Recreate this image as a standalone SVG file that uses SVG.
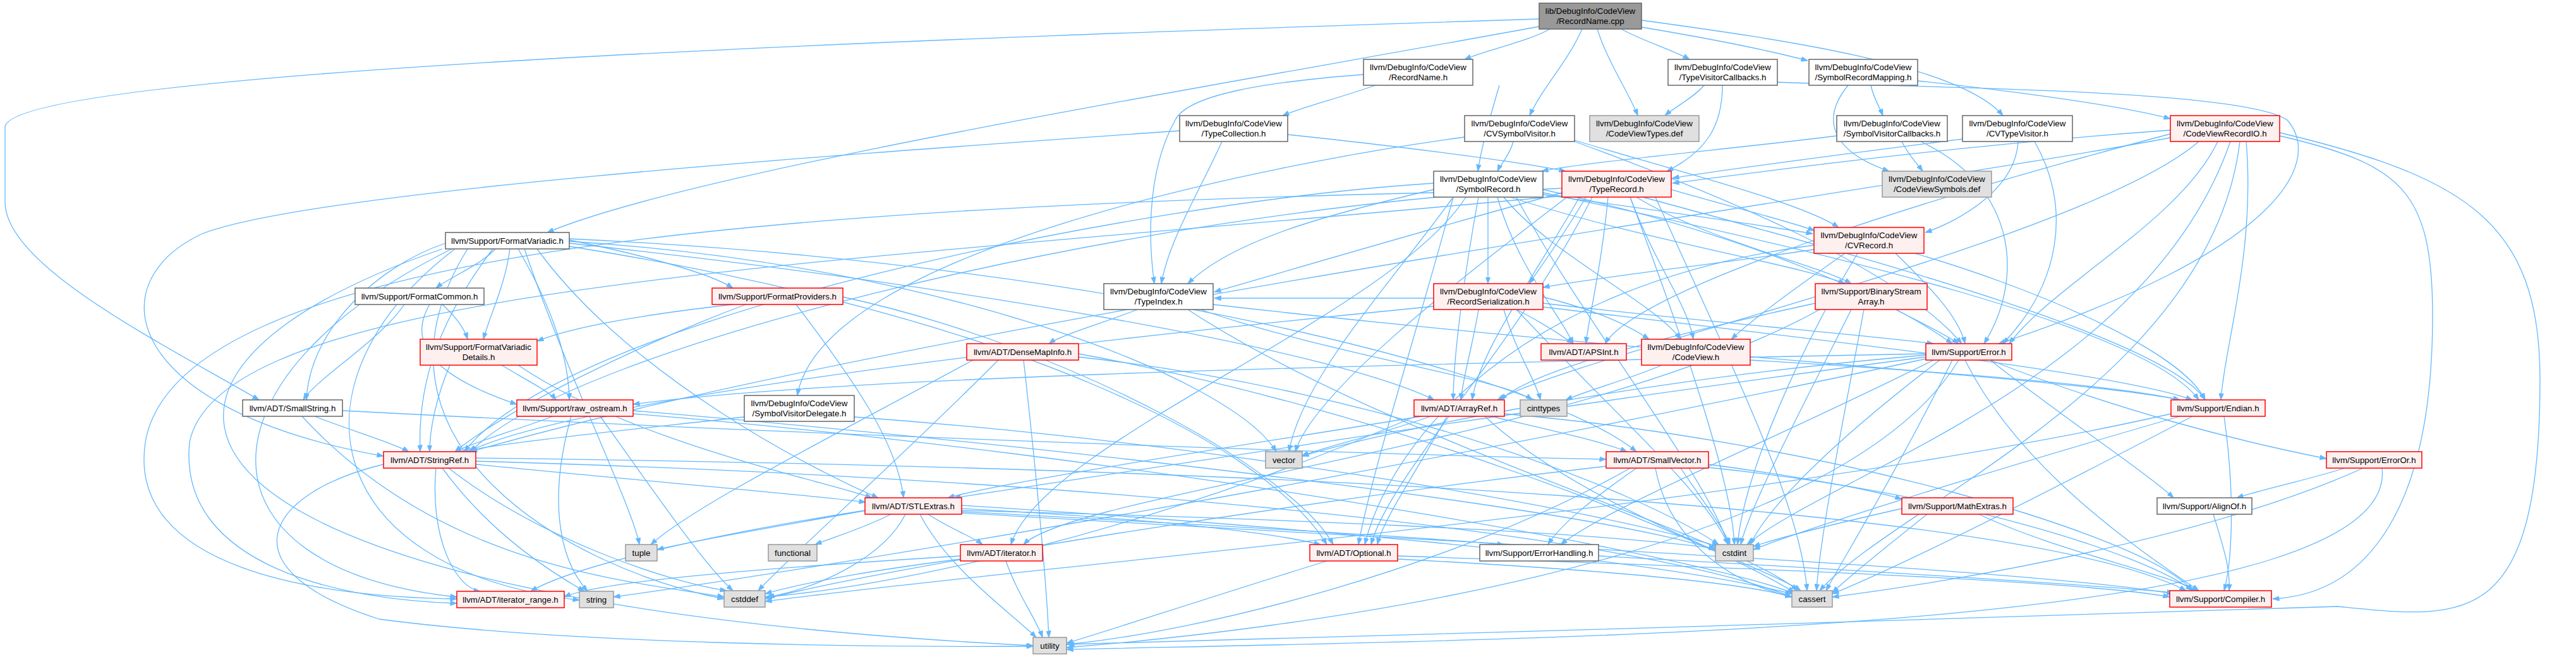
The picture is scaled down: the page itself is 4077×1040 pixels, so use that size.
<svg xmlns="http://www.w3.org/2000/svg" width="4077" height="1040" viewBox="0 0 4077 1040">
<style>
.w{fill:#ffffff;stroke:#666666;stroke-width:1.5}
.r{fill:#fff0f0;stroke:#ff0000;stroke-width:1.5}
.g{fill:#e0e0e0;stroke:#999999;stroke-width:1.5}
.root{fill:#999999;stroke:#666666;stroke-width:1.5}
text{font-family:"Liberation Sans",Arial,sans-serif;font-size:13.3px;fill:#000000;text-anchor:middle}
#edges path{fill:none;stroke:#63b8ff;stroke-width:1.3;marker-end:url(#a)}
</style>
<defs>
<marker id="a" markerUnits="userSpaceOnUse" markerWidth="11" markerHeight="8" refX="10.5" refY="4" orient="auto">
<path d="M0,0 L11,4 L0,8 z" fill="#63b8ff" stroke="#63b8ff" stroke-width="0.5"/>
</marker>
</defs>
<rect width="4077" height="1040" fill="#ffffff"/>
<g id="edges">
<path d="M2453,46 C2420,65 2350,80 2318,94"/>
<path d="M2436,30 C1500,60 30,110 8,200 L8,320 C8,420 250,540 410,633"/>
<path d="M2504,46 C2480,100 2440,140 2421,183"/>
<path d="M2528,46 C2545,100 2580,150 2592,183"/>
<path d="M2566,46 C2600,65 2650,80 2674,94"/>
<path d="M2598,43 C2700,60 2800,80 2861,96"/>
<path d="M2598,32 C2800,60 3100,100 3170,183"/>
<path d="M2436,42 C1900,140 1100,270 866,368"/>
<path d="M2373,135 C2360,180 2345,230 2339,271"/>
<path d="M2177,135 C2120,155 2060,170 2030,183"/>
<path d="M2158,118 C2000,130 1880,150 1860,190 C1810,280 1820,400 1827,449"/>
<path d="M2697,135 C2680,155 2650,170 2635,183"/>
<path d="M2726,135 C2726,200 2700,240 2638,271"/>
<path d="M2813,130 C3000,138 3550,140 3620,190 C3680,260 3600,400 3163,544"/>
<path d="M2961,135 C2965,155 2975,170 2980,183"/>
<path d="M3035,128 C3150,140 3350,165 3435,188"/>
<path d="M2925,135 C2880,190 2900,240 2990,271"/>
<path d="M2038,213 C2200,230 2400,255 2478,271"/>
<path d="M1934,224 C1900,300 1850,380 1838,449"/>
<path d="M1867,207 C1400,240 500,300 320,370 C150,450 200,650 607,722"/>
<path d="M2395,224 C2390,245 2375,260 2370,271"/>
<path d="M2492,222 C2650,270 2850,320 2910,360"/>
<path d="M2492,224 C2700,300 3000,420 3105,544"/>
<path d="M2318,217 C2000,260 1300,400 1262,626"/>
<path d="M2907,215 C2750,235 2520,255 2440,271"/>
<path d="M3010,224 C3020,245 3035,260 3043,271"/>
<path d="M3040,224 C3200,300 3200,450 3140,544"/>
<path d="M3194,224 C3190,300 3100,350 3047,368"/>
<path d="M3106,220 C2950,240 2750,265 2647,282"/>
<path d="M3220,224 C3280,330 3260,450 3170,544"/>
<path d="M3435,206 C3100,230 2800,270 2647,290"/>
<path d="M3435,212 C3100,300 2600,450 2540,544"/>
<path d="M3480,224 C3300,380 2500,560 2370,633"/>
<path d="M3435,218 C3000,300 1500,500 745,715"/>
<path d="M3510,224 C3450,350 3250,450 3180,544"/>
<path d="M3555,224 C3570,400 3520,550 3515,633"/>
<path d="M3545,224 C3500,600 3000,800 2880,935"/>
<path d="M3530,224 C3400,600 2900,750 2765,862"/>
<path d="M3608,215 C3800,260 3850,300 3850,500 C3850,800 3750,940 3597,948"/>
<path d="M3608,210 C3900,280 4020,350 4020,600 C4020,1000 3900,980 3700,960 C3300,970 2200,1010 1690,1020"/>
<path d="M2355,312 L2355,449"/>
<path d="M2442,308 C2600,330 2780,355 2869,370"/>
<path d="M2380,312 C2450,400 2620,480 2660,537"/>
<path d="M2269,300 C2100,340 1950,380 1880,449"/>
<path d="M2370,312 C2400,420 2470,500 2490,544"/>
<path d="M2340,312 C2320,420 2300,560 2300,633"/>
<path d="M2300,312 C2250,500 2170,750 2150,862"/>
<path d="M2269,290 C1800,320 900,500 735,715"/>
<path d="M2269,305 C1200,330 280,400 230,700 C200,900 500,945 723,948"/>
<path d="M2320,312 C2200,500 1650,700 1600,862"/>
<path d="M2390,312 C2600,380 2850,420 2920,449"/>
<path d="M2442,305 C2900,400 3400,520 3480,633"/>
<path d="M2442,300 C2800,380 3000,480 3090,544"/>
<path d="M2300,312 C2200,450 2060,600 2040,715"/>
<path d="M2400,312 C2500,500 2700,750 2735,862"/>
<path d="M2645,300 C2750,330 2830,350 2872,365"/>
<path d="M2580,312 C2620,420 2670,480 2680,537"/>
<path d="M2472,305 C2200,380 2000,440 1922,462"/>
<path d="M2545,312 C2535,420 2515,500 2510,544"/>
<path d="M2500,312 C2420,450 2340,560 2330,633"/>
<path d="M2520,312 C2400,550 2200,750 2170,862"/>
<path d="M2472,298 C1800,330 900,550 745,715"/>
<path d="M2472,310 C1300,420 350,450 300,700 C280,900 550,950 723,955"/>
<path d="M2590,312 C2700,380 2880,420 2930,449"/>
<path d="M2600,312 C3000,420 3430,540 3490,633"/>
<path d="M2480,312 C2300,450 2080,620 2050,715"/>
<path d="M2580,312 C2650,500 2740,750 2745,862"/>
<path d="M2510,312 C2470,380 2440,420 2420,449"/>
<path d="M2620,312 C2750,600 2850,800 2860,935"/>
<path d="M2871,395 C2700,420 2520,440 2442,455"/>
<path d="M2871,388 C2400,450 2200,700 2160,862"/>
<path d="M3000,401 C3050,450 3100,500 3110,544"/>
<path d="M3030,401 C3200,450 3450,550 3490,633"/>
<path d="M2940,401 C2850,550 2760,750 2750,862"/>
<path d="M2920,401 C2850,450 2780,500 2740,537"/>
<path d="M2442,470 C2520,490 2570,510 2610,537"/>
<path d="M2269,472 C2100,472 2000,472 1922,472"/>
<path d="M2400,490 C2440,510 2470,530 2490,544"/>
<path d="M2340,490 C2330,550 2315,600 2312,633"/>
<path d="M2269,485 C1500,560 900,640 740,715"/>
<path d="M2442,480 C2700,510 2950,530 3060,544"/>
<path d="M2442,486 C2900,540 3350,590 3470,633"/>
<path d="M2380,490 C2400,560 2430,600 2438,633"/>
<path d="M2400,490 C2550,650 2700,780 2735,862"/>
<path d="M2873,480 C2600,540 2420,590 2375,633"/>
<path d="M2880,490 C2500,700 1700,780 1620,862"/>
<path d="M3000,490 C3040,510 3080,530 3100,544"/>
<path d="M2950,490 C2920,650 2880,850 2875,935"/>
<path d="M2930,490 C2850,650 2770,800 2755,862"/>
<path d="M1800,490 C1750,510 1680,530 1660,544"/>
<path d="M1920,482 C2600,560 3300,600 3450,633"/>
<path d="M1900,490 C2100,560 2380,600 2425,633"/>
<path d="M1880,490 C2200,700 2750,850 2845,935"/>
<path d="M2630,578 C2580,600 2520,615 2478,633"/>
<path d="M2770,570 C3100,590 3350,610 3450,633"/>
<path d="M784,394 C760,420 710,440 690,456"/>
<path d="M901,380 C1000,400 1120,430 1160,456"/>
<path d="M807,394 C800,450 775,500 765,537"/>
<path d="M820,394 C870,480 900,560 901,633"/>
<path d="M705,385 C600,420 490,520 485,633"/>
<path d="M780,394 C700,500 660,600 665,715"/>
<path d="M901,385 C1500,450 2100,550 2270,633"/>
<path d="M901,390 C1600,500 2000,700 2100,862"/>
<path d="M850,394 C1000,600 1300,750 1390,788"/>
<path d="M901,378 C1800,420 2450,600 2590,715"/>
<path d="M740,394 C550,700 900,900 1146,948"/>
<path d="M720,394 C450,600 500,900 917,950"/>
<path d="M830,394 C900,600 1000,800 1012,862"/>
<path d="M700,394 C100,600 200,950 1635,1022"/>
<path d="M901,382 C1500,420 1950,600 2020,715"/>
<path d="M715,394 C300,600 300,900 723,945"/>
<path d="M700,482 C720,500 735,520 740,537"/>
<path d="M680,482 C640,550 700,600 818,640"/>
<path d="M640,482 C600,540 500,600 480,633"/>
<path d="M1160,482 C1000,500 900,520 850,540"/>
<path d="M1260,482 C1350,600 1420,700 1430,788"/>
<path d="M1180,482 C1000,550 800,650 720,715"/>
<path d="M1334,470 C1700,550 2050,750 2110,862"/>
<path d="M712,578 C690,630 680,680 680,715"/>
<path d="M794,578 C830,600 870,620 880,633"/>
<path d="M820,578 C1000,700 1300,760 1380,788"/>
<path d="M542,650 C1300,690 2200,720 2542,727"/>
<path d="M498,659 C550,680 620,700 647,715"/>
<path d="M478,659 C700,900 1000,920 1146,945"/>
<path d="M875,659 C820,680 750,700 720,715"/>
<path d="M1002,655 C1800,720 2700,880 2840,940"/>
<path d="M950,659 C1050,800 1120,900 1160,935"/>
<path d="M1002,650 C1600,700 2500,800 2715,870"/>
<path d="M904,659 C870,780 880,880 930,936"/>
<path d="M1178,660 C1000,680 800,700 730,715"/>
<path d="M1352,660 C1900,700 2500,800 2720,865"/>
<path d="M2360,659 C2450,680 2540,700 2575,715"/>
<path d="M2250,659 C2000,700 1600,760 1500,788"/>
<path d="M2381,655 C2900,700 3400,850 3470,935"/>
<path d="M2350,659 C2500,800 2800,900 2850,935"/>
<path d="M2240,659 C1800,850 1400,930 1211,945"/>
<path d="M2264,659 C2180,690 2100,705 2060,722"/>
<path d="M2290,659 C2240,750 2190,820 2180,862"/>
<path d="M753,735 C1000,760 1250,780 1370,795"/>
<path d="M690,741 C680,850 720,930 760,936"/>
<path d="M753,725 C2000,740 3200,800 3460,935"/>
<path d="M753,730 C1800,760 2600,850 2836,945"/>
<path d="M710,741 C850,850 1050,920 1150,935"/>
<path d="M700,741 C780,850 880,910 925,936"/>
<path d="M607,735 C420,780 350,900 600,980 C900,1020 1400,1025 1635,1023"/>
<path d="M1540,570 C1300,700 1100,800 1030,862"/>
<path d="M1707,560 C2200,650 2700,850 2840,938"/>
<path d="M1580,570 C1400,750 1250,880 1200,935"/>
<path d="M1707,565 C2200,620 2600,780 2720,862"/>
<path d="M1620,570 C1640,750 1655,900 1660,1009"/>
<path d="M2590,741 C2520,790 2470,830 2450,862"/>
<path d="M2704,735 C2850,755 2960,775 3010,790"/>
<path d="M2704,740 C3100,780 3400,880 3470,935"/>
<path d="M2620,741 C2640,850 2730,920 2836,945"/>
<path d="M2542,738 C2000,800 1400,900 1211,948"/>
<path d="M2660,741 C2700,800 2730,840 2738,862"/>
<path d="M2580,741 C2300,900 1900,1000 1688,1020"/>
<path d="M1522,805 C1800,820 2000,840 2090,862"/>
<path d="M1469,814 C1500,835 1540,850 1555,862"/>
<path d="M1369,808 C1100,850 900,900 840,936"/>
<path d="M1522,810 C1900,830 2250,850 2380,862"/>
<path d="M1522,800 C2000,830 2600,880 2836,940"/>
<path d="M1433,814 C1400,880 1300,930 1215,945"/>
<path d="M1522,808 C2000,820 2500,840 2715,868"/>
<path d="M1410,814 C1370,835 1320,850 1290,862"/>
<path d="M1371,808 C1250,830 1100,855 1040,870"/>
<path d="M1456,814 C1500,900 1600,970 1640,1009"/>
<path d="M1522,812 C2500,870 3200,900 3440,940"/>
<path d="M1520,880 C1200,900 950,920 893,945"/>
<path d="M1520,885 C1400,900 1280,920 1211,940"/>
<path d="M1592,888 C1610,940 1640,980 1650,1009"/>
<path d="M2212,880 C2800,900 3300,920 3434,945"/>
<path d="M2212,885 C2500,900 2750,920 2836,945"/>
<path d="M2100,888 C1900,950 1750,1000 1688,1018"/>
<path d="M2530,880 C2900,900 3300,925 3440,938"/>
<path d="M3048,565 C2400,650 1700,760 1510,788"/>
<path d="M3150,570 C3250,650 3400,750 3440,788"/>
<path d="M3110,570 C3200,750 3400,880 3480,935"/>
<path d="M3060,570 C2800,700 2550,800 2470,862"/>
<path d="M3150,570 C3350,650 3550,700 3682,726"/>
<path d="M3048,560 C2000,580 1300,600 1002,640"/>
<path d="M3090,570 C3000,750 2920,880 2890,935"/>
<path d="M3070,570 C2900,700 2800,800 2770,862"/>
<path d="M3048,568 C2200,750 1300,900 971,945"/>
<path d="M3100,570 C2900,900 2000,1000 1688,1025"/>
<path d="M3048,562 C2600,600 2200,680 2061,722"/>
<path d="M3520,659 C3540,800 3530,900 3520,935"/>
<path d="M3470,659 C3200,800 3000,900 2900,940"/>
<path d="M3436,655 C2800,800 1600,900 1211,952"/>
<path d="M3450,659 C3100,760 2850,840 2775,870"/>
<path d="M3711,741 C3650,760 3580,775 3540,788"/>
<path d="M3740,741 C3500,850 3100,920 2900,945"/>
<path d="M3770,741 C3800,1000 2500,1010 1688,1028"/>
<path d="M3503,814 C3520,870 3530,900 3528,935"/>
<path d="M3132,814 C3250,870 3400,900 3480,935"/>
<path d="M3050,814 C2980,870 2930,910 2900,938"/>
<path d="M3010,805 C2900,830 2820,850 2775,865"/>
</g>
<g id="n1"><rect class="root" x="2436" y="5" width="162" height="41"/><text x="2517" y="22">lib/DebugInfo/CodeView</text><text x="2517" y="38">/RecordName.cpp</text></g>
<g id="n2"><rect class="w" x="2158" y="94" width="173" height="41"/><text x="2244.5" y="111">llvm/DebugInfo/CodeView</text><text x="2244.5" y="127">/RecordName.h</text></g>
<g id="n3"><rect class="w" x="2640" y="94" width="173" height="41"/><text x="2726.5" y="111">llvm/DebugInfo/CodeView</text><text x="2726.5" y="127">/TypeVisitorCallbacks.h</text></g>
<g id="n4"><rect class="w" x="2863" y="94" width="172" height="41"/><text x="2949" y="111">llvm/DebugInfo/CodeView</text><text x="2949" y="127">/SymbolRecordMapping.h</text></g>
<g id="n5"><rect class="w" x="1867" y="183" width="171" height="41"/><text x="1952.5" y="200">llvm/DebugInfo/CodeView</text><text x="1952.5" y="216">/TypeCollection.h</text></g>
<g id="n6"><rect class="w" x="2318" y="183" width="174" height="41"/><text x="2405" y="200">llvm/DebugInfo/CodeView</text><text x="2405" y="216">/CVSymbolVisitor.h</text></g>
<g id="n7"><rect class="g" x="2516" y="183" width="173" height="41"/><text x="2602.5" y="200">llvm/DebugInfo/CodeView</text><text x="2602.5" y="216">/CodeViewTypes.def</text></g>
<g id="n8"><rect class="w" x="2907" y="183" width="175" height="41"/><text x="2994.5" y="200">llvm/DebugInfo/CodeView</text><text x="2994.5" y="216">/SymbolVisitorCallbacks.h</text></g>
<g id="n9"><rect class="w" x="3106" y="183" width="174" height="41"/><text x="3193" y="200">llvm/DebugInfo/CodeView</text><text x="3193" y="216">/CVTypeVisitor.h</text></g>
<g id="n10"><rect class="r" x="3435" y="183" width="173" height="41"/><text x="3521.5" y="200">llvm/DebugInfo/CodeView</text><text x="3521.5" y="216">/CodeViewRecordIO.h</text></g>
<g id="n11"><rect class="w" x="2269" y="271" width="173" height="41"/><text x="2355.5" y="288">llvm/DebugInfo/CodeView</text><text x="2355.5" y="304">/SymbolRecord.h</text></g>
<g id="n12"><rect class="r" x="2472" y="271" width="173" height="41"/><text x="2558.5" y="288">llvm/DebugInfo/CodeView</text><text x="2558.5" y="304">/TypeRecord.h</text></g>
<g id="n13"><rect class="g" x="2979" y="271" width="173" height="41"/><text x="3065.5" y="288">llvm/DebugInfo/CodeView</text><text x="3065.5" y="304">/CodeViewSymbols.def</text></g>
<g id="n14"><rect class="w" x="705" y="368" width="196" height="26"/><text x="803" y="385.5">llvm/Support/FormatVariadic.h</text></g>
<g id="n15"><rect class="r" x="2871" y="360" width="174" height="41"/><text x="2958" y="377">llvm/DebugInfo/CodeView</text><text x="2958" y="393">/CVRecord.h</text></g>
<g id="n16"><rect class="w" x="562" y="456" width="204" height="26"/><text x="664" y="473.5">llvm/Support/FormatCommon.h</text></g>
<g id="n17"><rect class="r" x="1127" y="456" width="207" height="26"/><text x="1230.5" y="473.5">llvm/Support/FormatProviders.h</text></g>
<g id="n18"><rect class="w" x="1747" y="449" width="173" height="41"/><text x="1833.5" y="466">llvm/DebugInfo/CodeView</text><text x="1833.5" y="482">/TypeIndex.h</text></g>
<g id="n19"><rect class="r" x="2269" y="449" width="173" height="41"/><text x="2355.5" y="466">llvm/DebugInfo/CodeView</text><text x="2355.5" y="482">/RecordSerialization.h</text></g>
<g id="n20"><rect class="r" x="2873" y="449" width="177" height="41"/><text x="2961.5" y="466">llvm/Support/BinaryStream</text><text x="2961.5" y="482">Array.h</text></g>
<g id="n21"><rect class="r" x="665" y="537" width="185" height="41"/><text x="757.5" y="554">llvm/Support/FormatVariadic</text><text x="757.5" y="570">Details.h</text></g>
<g id="n22"><rect class="r" x="1530" y="544" width="177" height="26"/><text x="1618.5" y="561.5">llvm/ADT/DenseMapInfo.h</text></g>
<g id="n23"><rect class="r" x="2439" y="544" width="135" height="26"/><text x="2506.5" y="561.5">llvm/ADT/APSInt.h</text></g>
<g id="n24"><rect class="r" x="2598" y="537" width="172" height="41"/><text x="2684" y="554">llvm/DebugInfo/CodeView</text><text x="2684" y="570">/CodeView.h</text></g>
<g id="n25"><rect class="r" x="3048" y="544" width="136" height="26"/><text x="3116" y="561.5">llvm/Support/Error.h</text></g>
<g id="n26"><rect class="w" x="384" y="633" width="158" height="26"/><text x="463" y="650.5">llvm/ADT/SmallString.h</text></g>
<g id="n27"><rect class="r" x="818" y="633" width="184" height="26"/><text x="910" y="650.5">llvm/Support/raw_ostream.h</text></g>
<g id="n28"><rect class="w" x="1178" y="626" width="174" height="41"/><text x="1265" y="643">llvm/DebugInfo/CodeView</text><text x="1265" y="659">/SymbolVisitorDelegate.h</text></g>
<g id="n29"><rect class="r" x="2238" y="633" width="143" height="26"/><text x="2309.5" y="650.5">llvm/ADT/ArrayRef.h</text></g>
<g id="n30"><rect class="g" x="2406" y="633" width="74" height="26"/><text x="2443" y="650.5">cinttypes</text></g>
<g id="n31"><rect class="r" x="3436" y="633" width="149" height="26"/><text x="3510.5" y="650.5">llvm/Support/Endian.h</text></g>
<g id="n32"><rect class="r" x="607" y="715" width="146" height="26"/><text x="680" y="732.5">llvm/ADT/StringRef.h</text></g>
<g id="n33"><rect class="g" x="2003" y="715" width="58" height="26"/><text x="2032" y="732.5">vector</text></g>
<g id="n34"><rect class="r" x="2542" y="715" width="162" height="26"/><text x="2623" y="732.5">llvm/ADT/SmallVector.h</text></g>
<g id="n35"><rect class="r" x="3682" y="715" width="151" height="26"/><text x="3757.5" y="732.5">llvm/Support/ErrorOr.h</text></g>
<g id="n36"><rect class="r" x="1369" y="788" width="153" height="26"/><text x="1445.5" y="805.5">llvm/ADT/STLExtras.h</text></g>
<g id="n37"><rect class="r" x="3010" y="788" width="176" height="26"/><text x="3098" y="805.5">llvm/Support/MathExtras.h</text></g>
<g id="n38"><rect class="w" x="3414" y="788" width="150" height="26"/><text x="3489" y="805.5">llvm/Support/AlignOf.h</text></g>
<g id="n39"><rect class="g" x="990" y="862" width="50" height="26"/><text x="1015" y="879.5">tuple</text></g>
<g id="n40"><rect class="g" x="1216" y="862" width="77" height="26"/><text x="1254.5" y="879.5">functional</text></g>
<g id="n41"><rect class="r" x="1520" y="862" width="130" height="26"/><text x="1585" y="879.5">llvm/ADT/iterator.h</text></g>
<g id="n42"><rect class="r" x="2073" y="862" width="139" height="26"/><text x="2142.5" y="879.5">llvm/ADT/Optional.h</text></g>
<g id="n43"><rect class="w" x="2342" y="862" width="188" height="26"/><text x="2436" y="879.5">llvm/Support/ErrorHandling.h</text></g>
<g id="n44"><rect class="g" x="2715" y="862" width="60" height="26"/><text x="2745" y="879.5">cstdint</text></g>
<g id="n45"><rect class="r" x="723" y="936" width="170" height="26"/><text x="808" y="953.5">llvm/ADT/iterator_range.h</text></g>
<g id="n46"><rect class="g" x="917" y="936" width="54" height="26"/><text x="944" y="953.5">string</text></g>
<g id="n47"><rect class="g" x="1146" y="935" width="65" height="26"/><text x="1178.5" y="952.5">cstddef</text></g>
<g id="n48"><rect class="g" x="2836" y="935" width="64" height="26"/><text x="2868" y="952.5">cassert</text></g>
<g id="n49"><rect class="r" x="3434" y="935" width="161" height="26"/><text x="3514.5" y="952.5">llvm/Support/Compiler.h</text></g>
<g id="n50"><rect class="g" x="1635" y="1009" width="53" height="26"/><text x="1661.5" y="1026.5">utility</text></g>
</svg>
